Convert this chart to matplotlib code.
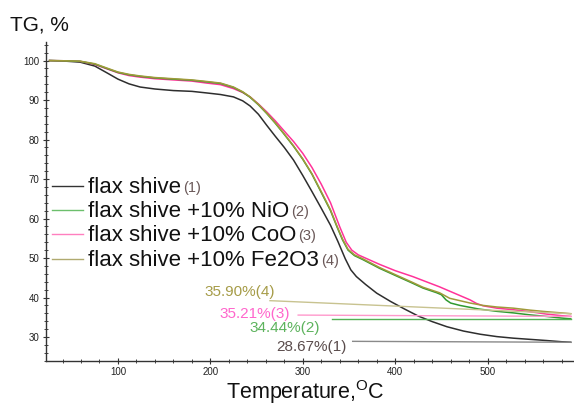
import matplotlib
matplotlib.use("Agg")
import matplotlib.pyplot as plt
from matplotlib.ticker import MultipleLocator

plt.rcParams['font.family'] = ['Liberation Sans', 'DejaVu Sans']
plt.rcParams['mathtext.fontset'] = 'custom'
plt.rcParams['mathtext.rm'] = 'Liberation Sans'

# ---------------- data ----------------
T_black = [26, 40, 59, 75, 88, 100, 112, 124, 140, 160, 180, 196, 211, 225, 235, 243, 252, 261, 270,
           280, 290, 300, 310, 320, 330, 338, 346, 352, 358, 368, 380, 395, 410, 425, 440, 456, 474,
           492, 510, 528, 546, 564, 580, 590]
v_black = [100.0, 99.9, 99.6, 98.6, 96.9, 95.3, 94.1, 93.3, 92.8, 92.4, 92.2, 91.8, 91.4, 90.8, 89.8,
           88.5, 86.4, 83.6, 80.9, 78.0, 74.8, 70.9, 66.8, 62.6, 58.3, 54.2, 49.8, 47.0, 45.3, 43.3,
           41.1, 39.0, 37.1, 35.3, 33.9, 32.6, 31.5, 30.7, 30.1, 29.7, 29.4, 29.1, 28.8, 28.67]

T_nio = [26, 40, 59, 75, 88, 100, 112, 124, 140, 160, 180, 196, 211, 225, 235, 243, 252, 261, 270,
         279, 290, 300, 310, 320, 330, 337, 343, 349, 356, 365, 383, 400, 419, 430, 445, 450, 455,
         460, 470, 490, 510, 528, 546, 564, 580, 590]
v_nio = [100.0, 99.95, 99.8, 99.1, 98.0, 97.0, 96.4, 96.0, 95.6, 95.3, 95.0, 94.6, 94.2, 93.2, 92.0,
         90.7, 88.8, 86.6, 84.2, 81.6, 78.3, 75.0, 71.2, 66.6, 62.0, 57.9, 54.6, 52.0, 50.6, 49.6,
         47.4, 45.6, 43.6, 42.4, 41.2, 40.7, 39.4, 38.6, 38.0, 37.1, 36.5, 36.1, 35.6, 35.2, 34.8, 34.6]

T_coo = [26, 40, 59, 75, 88, 100, 112, 124, 140, 160, 180, 196, 211, 225, 235, 243, 252, 261, 270,
         279, 290, 300, 310, 320, 330, 340, 347, 353, 360, 383, 400, 419, 448, 465, 481, 488, 495,
         510, 528, 546, 564, 580, 590]
v_coo = [100.0, 99.95, 99.8, 99.0, 97.9, 96.9, 96.2, 95.8, 95.4, 95.1, 94.8, 94.3, 93.9, 92.9, 91.9,
         90.8, 89.0, 87.0, 84.8, 82.4, 79.5, 76.5, 72.9, 68.7, 64.0, 57.9, 54.0, 52.0, 50.8, 48.4,
         46.8, 45.3, 42.7, 41.0, 39.4, 38.5, 37.9, 37.3, 36.9, 36.4, 35.8, 35.4, 35.21]

T_fe = [26, 40, 59, 75, 88, 100, 112, 124, 140, 160, 180, 196, 211, 225, 235, 243, 252, 261, 270,
        279, 290, 300, 310, 320, 330, 337, 343, 349, 356, 365, 383, 400, 419, 430, 448, 459, 470,
        481, 495, 510, 528, 546, 564, 580, 590]
v_fe = [100.0, 99.95, 99.85, 99.2, 98.1, 97.1, 96.5, 96.1, 95.7, 95.4, 95.1, 94.7, 94.3, 93.3, 92.1,
        90.8, 88.9, 86.7, 84.3, 81.7, 78.4, 75.1, 71.3, 66.8, 62.2, 58.1, 54.8, 52.2, 50.8, 49.8,
        47.6, 45.8, 43.8, 42.6, 41.2, 39.8, 39.2, 38.6, 38.0, 37.6, 37.3, 36.8, 36.4, 36.1, 35.9]

labels = ["flax shive", "flax shive +10% NiO", "flax shive +10% CoO", "flax shive +10% Fe2O3"]
residues = [28.67, 34.44, 35.21, 35.90]
x_ticks = [100, 200, 300, 400, 500]
y_ticks = [30, 40, 50, 60, 70, 80, 90, 100]

# ---------------- style ----------------
c_black, c_green, c_pink, c_olive = '#2e2e2e', '#2f9a2f', '#ff3399', '#a09a3a'
series = [(T_black, v_black, c_black), (T_coo, v_coo, c_pink),
          (T_nio, v_nio, c_green), (T_fe, v_fe, c_olive)]

fig = plt.figure(figsize=(5.74, 4.05), dpi=100)
ax = fig.add_axes([0.0796, 0.1094, 0.9204, 0.7869])
ax.set_xlim(21.8, 593.5)
ax.set_ylim(24.0, 104.7)

for T, v, c in series:
    ax.plot(T, v, color=c, lw=1.1, solid_joinstyle='round')

for s in ['top', 'right']:
    ax.spines[s].set_visible(False)
for s in ['left', 'bottom']:
    ax.spines[s].set_color('#333333')
    ax.spines[s].set_linewidth(1.0)
ax.set_xticks(x_ticks)
ax.set_yticks(y_ticks)
ax.xaxis.set_minor_locator(MultipleLocator(20))
ax.yaxis.set_minor_locator(MultipleLocator(2))
ax.tick_params(which='major', direction='inout', length=5, width=0.8, colors='#333333',
               labelsize=7, labelcolor='#222222', pad=2)
ax.tick_params(which='minor', direction='inout', length=3, width=0.7, colors='#444444')

fig.text(10/574, 1-25/405, "TG, %", fontsize=15, va='center', ha='left', color='#111111')
fig.text(305/574, 1-392/405, r"Temperature,$^{\mathrm{O}}$C", fontsize=15.5, ha='center',
         va='center', color='#111111')

# ---------------- annotations ----------------
ann_cols = ['#5a4c4c', '#5db35d', '#ff66cc', '#a69c48']
lead_cols = ['#8a8a8a', '#55b055', '#ff99cc', '#c8c390']
ann_text_pos = [(271, 27.5), (241.8, 32.2), (210, 35.9), (194, 41.4)]
lead_start = [(354, 28.9), (331.6, 34.44), (295, 35.55), (264.5, 39.2)]
T_end = 590
for i in range(4):
    tx, ty = ann_text_pos[i]
    ax.text(tx, ty, f"{residues[i]:.2f}%({i+1})", color=ann_cols[i], fontsize=11,
            ha='left', va='center')
    sx, sy = lead_start[i]
    ax.plot([sx, T_end], [sy, residues[i]], color=lead_cols[i], lw=1.0)

# ---------------- legend (manual) ----------------
leg_cols = ['#333333', '#6cbf6c', '#ff7fbf', '#b0aa70']
leg_y_px = [186, 210, 234, 259]
fig.canvas.draw()
renderer = fig.canvas.get_renderer()
for i in range(4):
    yf = 1 - leg_y_px[i]/405
    fig.add_artist(plt.Line2D([52/574, 83/574], [yf, yf], color=leg_cols[i], lw=1.0))
    t = fig.text(88/574, yf - 7/405, labels[i], fontsize=16, va='baseline', ha='left',
                 color='#111111')
    bb = t.get_window_extent(renderer=renderer)
    fig.text((bb.x1 + 2)/574, yf - 6/405, f"({i+1})", fontsize=10.5, va='baseline',
             ha='left', color='#6a5858')

fig.savefig("out.png", dpi=100)
